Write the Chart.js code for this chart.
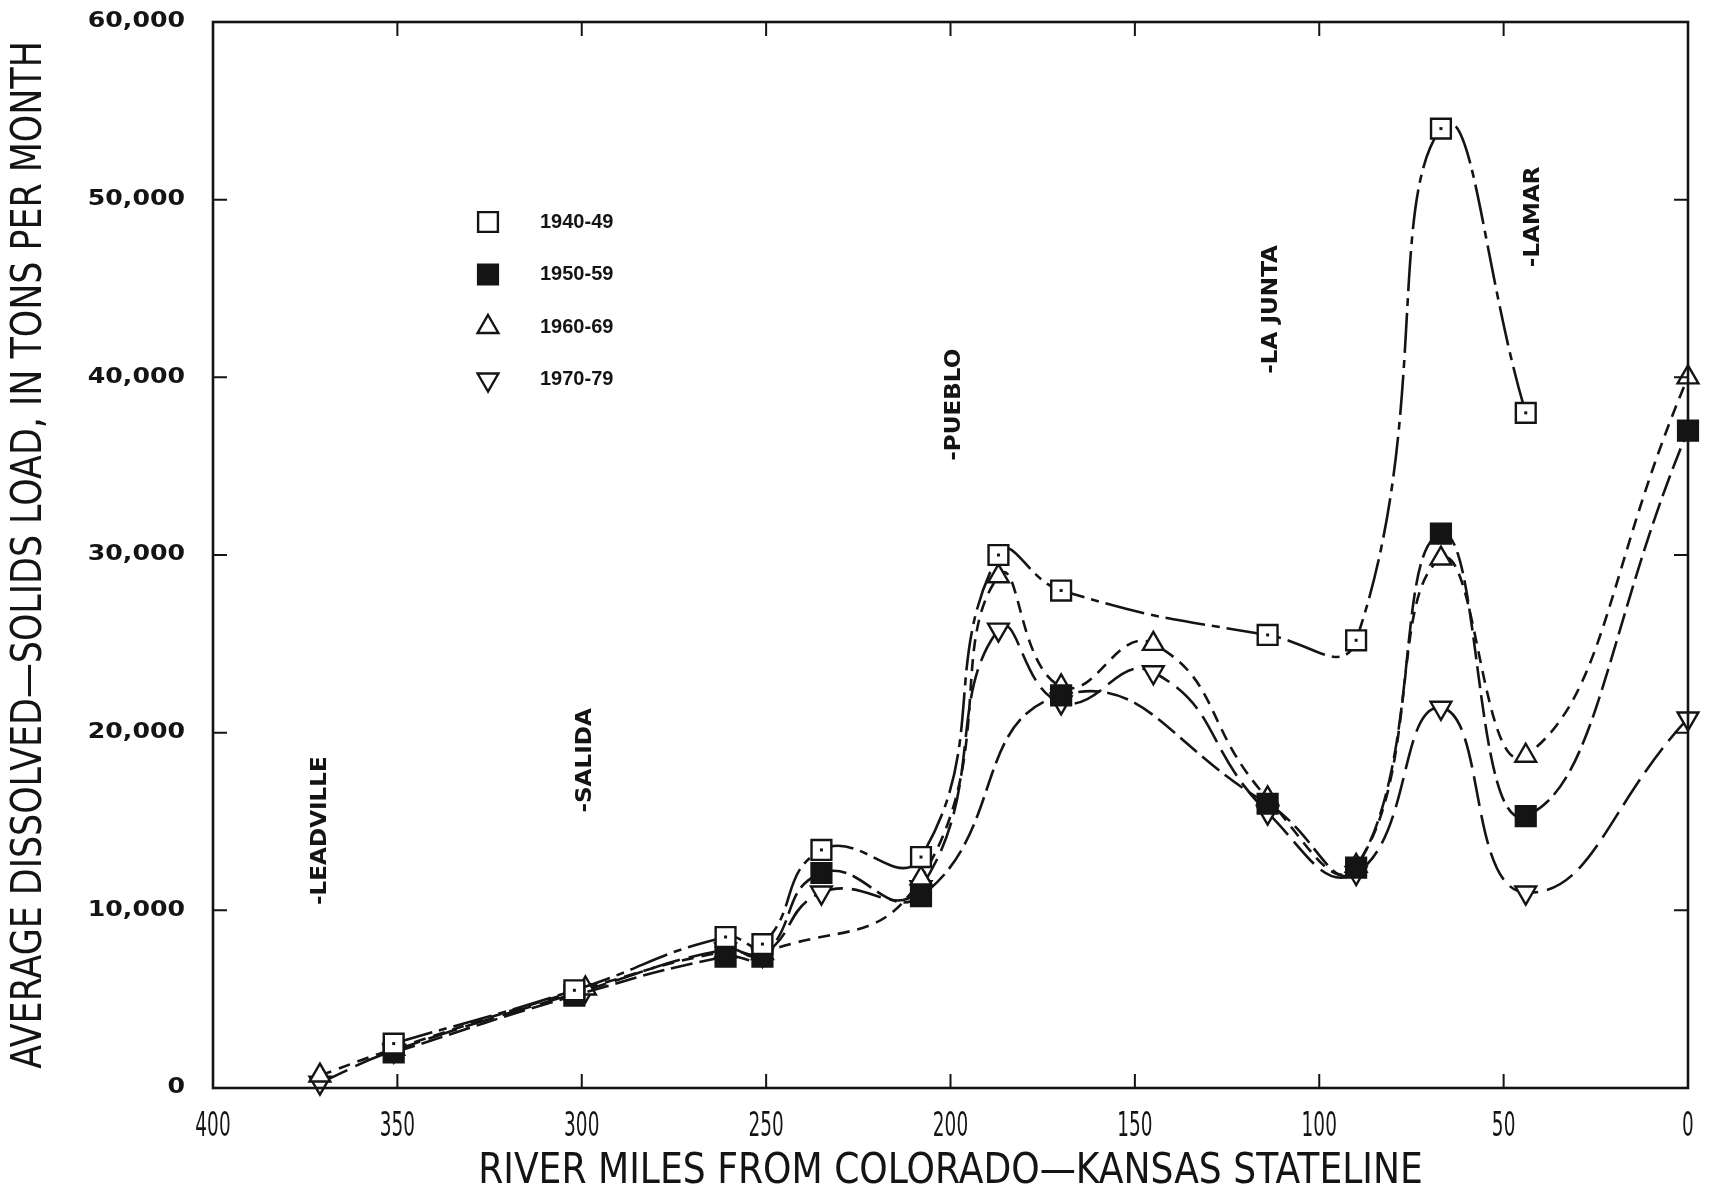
<!DOCTYPE html>
<html>
<head>
<meta charset="utf-8">
<script src="https://cdn.jsdelivr.net/npm/chart.js@4.4.1/dist/chart.umd.min.js"></script>
<style>
html, body { margin: 0; padding: 0; background: #fff; }
</style>
</head>
<body>
<canvas id="loadChart" width="1710" height="1193"></canvas>
<script>
// Average dissolved-solids load along the Arkansas River, by decade
const decades = ['1940-49', '1950-59', '1960-69', '1970-79'];

const miles1940 = [351, 302, 261, 251, 235, 208, 187, 170, 114, 90, 67, 44];
const load1940 = [2500, 5500, 8500, 8100, 13400, 13000, 30000, 28000, 25500, 25200, 54000, 38000];

const miles1950 = [351, 302, 261, 251, 235, 208, 170, 114, 90, 67, 44, 0];
const load1950 = [2000, 5200, 7400, 7400, 12100, 10800, 22100, 16000, 12400, 31200, 15300, 37000];

const miles1960 = [371, 351, 299, 261, 251, 208, 187, 170, 145, 114, 90, 67, 44, 0];
const load1960 = [700, 2200, 5600, 7700, 7600, 11800, 28800, 22600, 25000, 16300, 12500, 29800, 18700, 40000];

const miles1970 = [371, 351, 299, 261, 251, 235, 208, 187, 170, 145, 114, 90, 67, 44, 0];
const load1970 = [300, 2100, 5500, 7800, 7500, 11000, 11300, 25800, 21700, 23400, 15500, 12100, 21400, 11000, 20800];

const xTickLabels = [400, 350, 300, 250, 200, 150, 100, 50, 0];
const yTickLabels = [0, 10000, 20000, 30000, 40000, 50000, 60000];

const towns = ['LEADVILLE', 'SALIDA', 'PUEBLO', 'LA JUNTA', 'LAMAR'];
const townMiles = [371, 299, 199, 113, 42];

// where the town names start (in load units), layout only
const townLabelBase = [10300, 15500, 35300, 40200, 46200];

const ink = '#141414';

function pts(m, v) {
    return m.map((mi, i) => ({ x: mi, y: v[i] }));
}

function lineSet(label, data, dash, pointStyle, fill, radius, rotation) {
    return {
        label: label,
        data: data,
        borderColor: ink,
        borderWidth: 2.6,
        borderDash: dash,
        tension: 0.5,
        fill: false,
        clip: false,
        pointStyle: pointStyle,
        pointRadius: radius,
        pointHoverRadius: radius,
        pointRotation: rotation,
        pointBackgroundColor: fill,
        pointBorderColor: ink,
        pointBorderWidth: 2.4
    };
}

function drawText(ctx, text, x, y, font, sx, align, baseline, angle) {
    ctx.save();
    ctx.translate(x, y);
    if (angle) ctx.rotate(angle);
    ctx.scale(sx, 1);
    ctx.font = font;
    ctx.textAlign = align;
    ctx.textBaseline = baseline;
    ctx.fillStyle = ink;
    ctx.fillText(text, 0, 0);
    ctx.restore();
}

// box round the plot with inward ticks on all four sides, plus tick labels and titles
const frame = {
    id: 'frame',
    afterDraw: function (chart) {
        const ctx = chart.ctx, a = chart.chartArea;
        const x = chart.scales.x, y = chart.scales.y;
        const len = 14;
        ctx.save();
        ctx.strokeStyle = ink;
        ctx.lineWidth = 2.6;
        ctx.strokeRect(a.left, a.top, a.right - a.left, a.bottom - a.top);
        ctx.beginPath();
        xTickLabels.forEach(function (v) {
            const px = x.getPixelForValue(v);
            ctx.moveTo(px, a.bottom); ctx.lineTo(px, a.bottom - len);
            ctx.moveTo(px, a.top); ctx.lineTo(px, a.top + len);
        });
        yTickLabels.forEach(function (v) {
            const py = y.getPixelForValue(v);
            ctx.moveTo(a.left, py); ctx.lineTo(a.left + len, py);
            ctx.moveTo(a.right, py); ctx.lineTo(a.right - len, py);
        });
        ctx.lineWidth = 2;
        ctx.stroke();
        ctx.restore();

        xTickLabels.forEach(function (v) {
            drawText(ctx, String(v), x.getPixelForValue(v), a.bottom + 39,
                '33px "DejaVu Sans"', 0.56, 'center', 'middle');
        });
        yTickLabels.forEach(function (v) {
            drawText(ctx, v.toLocaleString('en-US'), a.left - 28, y.getPixelForValue(v),
                'bold 21px "DejaVu Sans"', 1.2, 'right', 'middle');
        });

        drawText(ctx, 'RIVER MILES FROM COLORADO\u2014KANSAS STATELINE', (a.left + a.right) / 2, 1172,
            '42px "DejaVu Sans"', 0.86, 'center', 'middle');
        drawText(ctx, 'AVERAGE DISSOLVED\u2014SOLIDS LOAD, IN TONS PER MONTH', 30, (a.top + a.bottom) / 2,
            '42px "DejaVu Sans"', 0.83, 'center', 'middle', -Math.PI / 2);
    }
};

// town names written upward from their river mile
const townNames = {
    id: 'townNames',
    afterDraw: function (chart) {
        const ctx = chart.ctx, x = chart.scales.x, y = chart.scales.y;
        towns.forEach(function (t, i) {
            drawText(ctx, '-' + t, x.getPixelForValue(townMiles[i]), y.getPixelForValue(townLabelBase[i]),
                'bold 22px "DejaVu Sans"', 1.05, 'left', 'middle', -Math.PI / 2);
        });
    }
};

// small dot in the middle of the 1940-49 open squares
const squareDots = {
    id: 'squareDots',
    afterDatasetsDraw: function (chart) {
        const ctx = chart.ctx;
        ctx.save();
        ctx.fillStyle = ink;
        chart.getDatasetMeta(0).data.forEach(function (p) {
            ctx.fillRect(p.x - 1.5, p.y - 1.5, 3, 3);
        });
        ctx.restore();
    }
};

// legend block inside the plot, upper left
const keyBlock = {
    id: 'keyBlock',
    afterDraw: function (chart) {
        const ctx = chart.ctx;
        chart.data.datasets.forEach(function (ds, i) {
            const cy = 222 + i * 52.5;
            ctx.save();
            ctx.fillStyle = ds.pointBackgroundColor;
            ctx.strokeStyle = ink;
            ctx.lineWidth = ds.pointBorderWidth;
            Chart.helpers.drawPoint(ctx, {
                pointStyle: ds.pointStyle,
                radius: ds.pointRadius,
                rotation: ds.pointRotation,
                borderWidth: ds.pointBorderWidth
            }, 488, cy);
            ctx.restore();
            drawText(ctx, ds.label, 540, cy, 'bold 20px "Liberation Sans"', 1, 'left', 'middle');
        });
    }
};

const ctx = document.getElementById('loadChart').getContext('2d');

new Chart(ctx, {
    type: 'line',
    data: {
        datasets: [
            lineSet(decades[0], pts(miles1940, load1940), [40, 7, 8, 7], 'rect', '#fff', 14, 0),
            lineSet(decades[1], pts(miles1950, load1950), [22, 7], 'rect', ink, 14, 0),
            lineSet(decades[2], pts(miles1960, load1960), [12, 8], 'triangle', '#fff', 12, 0),
            lineSet(decades[3], pts(miles1970, load1970), [30, 9], 'triangle', '#fff', 12, 180)
        ]
    },
    options: {
        responsive: false,
        animation: false,
        events: [],
        layout: {
            padding: { top: 22, right: 22, left: 0, bottom: 0 }
        },
        plugins: {
            legend: { display: false },
            tooltip: { enabled: false }
        },
        scales: {
            x: {
                type: 'linear',
                reverse: true,
                min: 0,
                max: 400,
                ticks: { stepSize: 50, display: false },
                grid: { display: false, drawTicks: false },
                border: { display: false },
                afterFit: function (s) { s.height = 105; }
            },
            y: {
                type: 'linear',
                min: 0,
                max: 60000,
                ticks: { stepSize: 10000, display: false },
                grid: { display: false, drawTicks: false },
                border: { display: false },
                afterFit: function (s) { s.width = 213; }
            }
        }
    },
    plugins: [frame, townNames, squareDots, keyBlock]
});
</script>
</body>
</html>
